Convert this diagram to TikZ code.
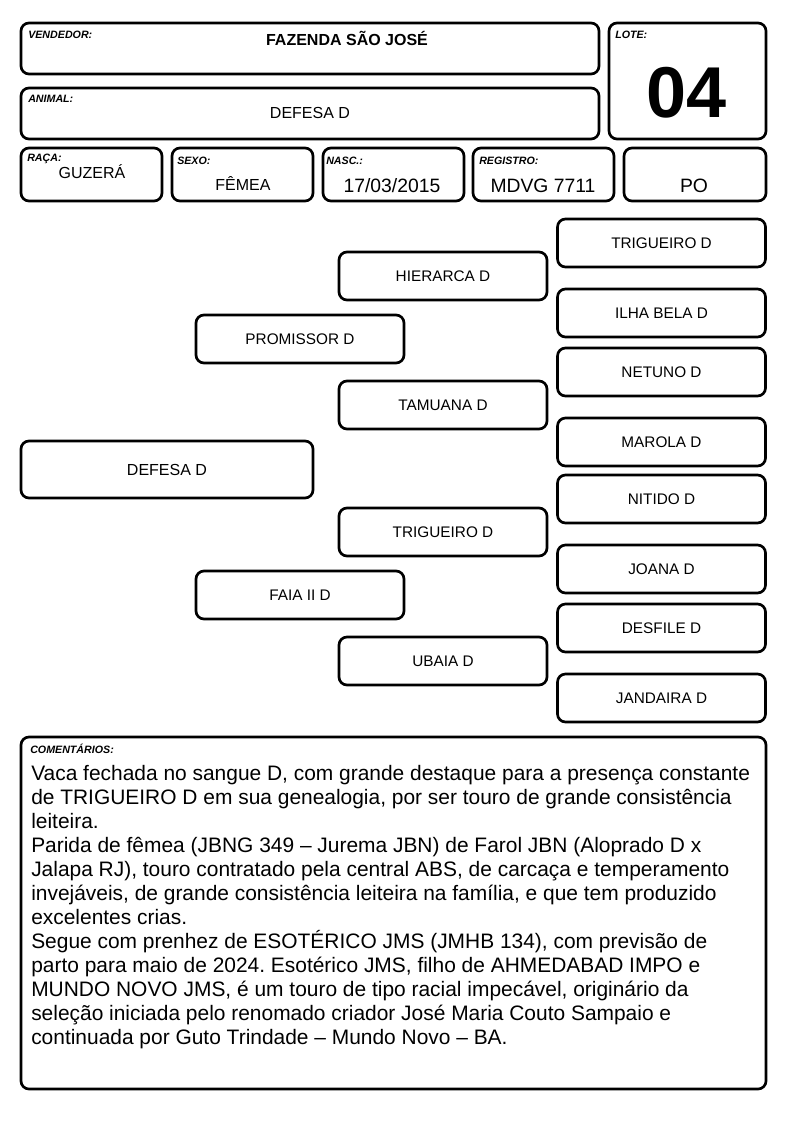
\documentclass[tikz,border=0pt]{standalone}
\usepackage{fontspec}
\setmainfont{Liberation Sans}
\frenchspacing
\usetikzlibrary{positioning}
\tikzstyle{cell}=[draw=black,line width=2pt,rounded corners=6pt,inner sep=0pt]
\tikzstyle{tag}=[anchor=north west,inner sep=0pt,font=\fontsize{8}{9}\selectfont\bfseries\itshape]
\tikzstyle{val}=[inner sep=0pt,font=\fontsize{12}{14}\selectfont]
\tikzstyle{pcell}=[cell,minimum width=156pt,minimum height=36pt,font=\fontsize{11.5}{14}\selectfont]

\begin{document}
\begin{tikzpicture}[x=0.75pt,y=-0.75pt]

      \useasboundingbox (0,0) rectangle (794,1123);

      % cabecalho
      \node[cell,minimum width=433.5pt,minimum height=38.25pt] (vend) at (310,48.5) {};
      \node[cell,minimum width=117.75pt,minimum height=87pt] (lote) at (687.5,81) {};
      \node[cell,minimum width=433.5pt,minimum height=38.25pt] (anim) at (310,113.5) {};

      \node[cell,minimum width=105.75pt,minimum height=39.75pt] (raca) at (91.5,174.5) {};
      \node[cell,minimum width=105.75pt,minimum height=39.75pt] (sexo) at (242.5,174.5) {};
      \node[cell,minimum width=105.75pt,minimum height=39.75pt] (nasc) at (393.5,174.5) {};
      \node[cell,minimum width=105.75pt,minimum height=39.75pt] (regi) at (543.5,174.5) {};
      \node[cell,minimum width=106.5pt,minimum height=39.75pt] (cat) at (695,174.5) {};

      \node[tag] (tvend) at (28,31) {VENDEDOR:};
      \node[tag] (tlote) at (615,31) {LOTE:};
      \node[tag] (tanim) at (28,95) {ANIMAL:};
      \node[tag] (traca) at (27,154) {RAÇA:};
      \node[tag] (tsexo) at (177,157) {SEXO:};
      \node[tag] (tnasc) at (326,157) {NASC.:};
      \node[tag] (tregi) at (479,157) {REGISTRO:};

      \node[val,font=\fontsize{12}{14}\selectfont\bfseries] (vvend) at (347,38) {FAZENDA SÃO JOSÉ};
      \node[val,font=\fontsize{54}{60}\selectfont\bfseries] (vlote) at (687,93) {04};
      \node[val] (vanim) at (310,113) {DEFESA D};
      \node[val] (vraca) at (92,172) {GUZERÁ};
      \node[val] (vsexo) at (243,184) {FÊMEA};
      \node[val,font=\fontsize{14.5}{16}\selectfont] (vnasc) at (392,186) {17/03/2015};
      \node[val,font=\fontsize{14.5}{16}\selectfont] (vregi) at (543,186) {MDVG 7711};
      \node[val,font=\fontsize{14.5}{16}\selectfont] (vcat) at (694,186) {PO};

      % genealogia
      \node[pcell,minimum width=219pt,minimum height=42.75pt,font=\fontsize{12}{14}\selectfont] (animal) at (167,469.5) {DEFESA D};
      \node[pcell] (pai) at (300,339) {PROMISSOR D};
      \node[pcell] (mae) at (300,595) {FAIA II D};

      \foreach \nome/\y [count=\i] in {HIERARCA D/276,TAMUANA D/405,TRIGUEIRO D/532,UBAIA D/661}
          \node[pcell] (avo\i) at (443,\y) {\nome};

      \foreach \nome/\y [count=\i] in {TRIGUEIRO D/243,ILHA BELA D/313,NETUNO D/372,MAROLA D/442,
                                       NITIDO D/499,JOANA D/569,DESFILE D/628,JANDAIRA D/698}
          \node[pcell] (bis\i) at (661.5,\y) {\nome};

      % comentarios
      \node[cell,minimum width=558.75pt,minimum height=264pt] (coment) at (393.5,913) {};
      \node[tag] (tcoment) at (30,744) {COMENTÁRIOS:};
      \node[anchor=north west,inner sep=0pt,align=left,font=\fontsize{15.7}{18}\selectfont] (texto) at (31,765)
      {Vaca fechada no sangue D, com grande destaque para a presença constante\\
       de TRIGUEIRO D em sua genealogia, por ser touro de grande consistência\\
       leiteira.\\
       Parida de fêmea (JBNG 349 – Jurema JBN) de Farol JBN (Aloprado D x\\
       Jalapa RJ), touro contratado pela central ABS, de carcaça e temperamento\\
       invejáveis, de grande consistência leiteira na família, e que tem produzido\\
       excelentes crias.\\
       Segue com prenhez de ESOTÉRICO JMS (JMHB 134), com previsão de\\
       parto para maio de 2024. Esotérico JMS, filho de AHMEDABAD IMPO e\\
       MUNDO NOVO JMS, é um touro de tipo racial impecável, originário da\\
       seleção iniciada pelo renomado criador José Maria Couto Sampaio e\\
       continuada por Guto Trindade – Mundo Novo – BA.};

\end{tikzpicture}
\end{document}
